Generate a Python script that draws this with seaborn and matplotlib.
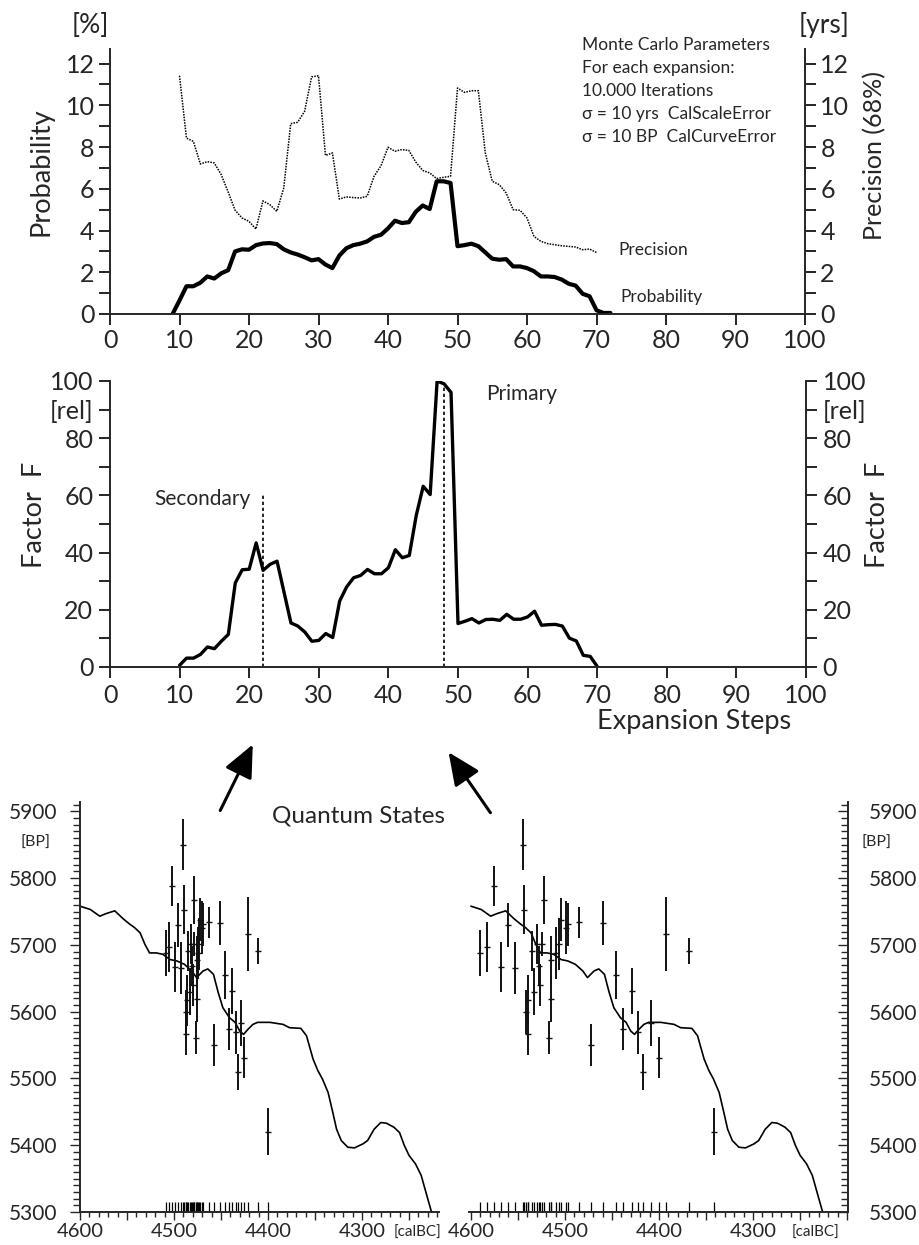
import matplotlib
matplotlib.use("Agg")
import matplotlib.pyplot as plt
from matplotlib.patches import FancyArrowPatch
from matplotlib.ticker import MultipleLocator
import seaborn as sns

sns.set_theme(style="ticks")
plt.rcParams["font.family"] = ["Lato", "DejaVu Sans"]
plt.rcParams["axes.linewidth"] = 1.4

W_PX, H_PX = 919, 1245

# ---- top panel: probability / precision per expansion step ----
prob_steps = list(range(9, 73))
probability = [0.0, 0.65, 1.33, 1.33, 1.5, 1.8, 1.7, 1.95, 2.1, 3.0, 3.1, 3.08, 3.3, 3.38,
               3.4, 3.35, 3.1, 2.95, 2.85, 2.72, 2.57, 2.63, 2.37, 2.2, 2.8, 3.15, 3.3, 3.37,
               3.48, 3.7, 3.8, 4.1, 4.47, 4.36, 4.4, 4.9, 5.2, 5.03, 6.36, 6.36, 6.28, 3.25,
               3.3, 3.37, 3.25, 2.95, 2.65, 2.6, 2.63, 2.28, 2.28, 2.2, 2.05, 1.8, 1.8, 1.77,
               1.65, 1.45, 1.36, 0.97, 0.85, 0.18, 0.05, 0.05]
prec_steps = list(range(10, 71))
precision = [11.42, 8.43, 8.27, 7.19, 7.3, 7.24, 6.68, 5.85, 4.97, 4.6, 4.44, 4.07, 5.42,
             5.24, 4.92, 6.04, 9.12, 9.19, 9.71, 11.36, 11.42, 7.6, 7.72, 5.51, 5.61, 5.58,
             5.56, 5.64, 6.6, 7.11, 7.99, 7.8, 7.88, 7.84, 7.28, 6.88, 6.76, 6.49, 6.55, 6.6,
             10.83, 10.62, 10.7, 10.7, 7.72, 6.36, 6.2, 5.8, 5.0, 4.97, 4.6, 3.72, 3.48, 3.37,
             3.32, 3.27, 3.24, 3.21, 3.08, 3.11, 2.95]

# ---- middle panel: factor F ----
factor_steps = list(range(10, 71))
factor_f = [0.6, 3.1, 3.1, 4.4, 7.0, 6.4, 9.0, 11.4, 29.4, 34.0, 34.2, 43.4, 33.8, 35.9, 37.0,
            26.2, 15.4, 14.3, 12.2, 9.0, 9.3, 11.7, 10.3, 23.1, 28.0, 31.2, 32.0, 34.1, 32.6,
            32.6, 34.7, 41.0, 38.2, 39.0, 53.0, 63.2, 60.3, 100.0, 99.0, 96.0, 15.2, 16.0,
            16.9, 15.4, 16.6, 16.7, 16.3, 18.4, 16.7, 16.7, 17.5, 19.5, 14.6, 14.8, 14.9,
            14.3, 10.1, 9.1, 4.1, 3.7, 0.2]
state_steps = [22, 48]
state_tops = [61, 98]
state_names = ["Secondary", "Primary"]

# ---- bottom panels: calibration curve and dates ----
cal_bc = [4600, 4589, 4579, 4572, 4563, 4554, 4547, 4542, 4536, 4531, 4526, 4519, 4512,
          4504, 4497, 4489, 4481, 4476, 4469, 4464, 4458, 4453, 4448, 4441, 4435, 4430,
          4426, 4421, 4416, 4411, 4398, 4384, 4377, 4365, 4359, 4352, 4347, 4342, 4336,
          4331, 4327, 4322, 4315, 4308, 4299, 4294, 4287, 4280, 4274, 4266, 4260, 4255,
          4250, 4243, 4237, 4232, 4226]
cal_bp = [5758, 5753, 5743, 5747, 5751, 5739, 5731, 5726, 5718, 5701, 5688, 5688, 5686,
          5678, 5676, 5671, 5661, 5651, 5661, 5664, 5656, 5629, 5606, 5591, 5584, 5571,
          5566, 5574, 5581, 5584, 5584, 5581, 5576, 5575, 5564, 5529, 5512, 5499, 5479,
          5449, 5424, 5407, 5397, 5396, 5402, 5407, 5424, 5434, 5433, 5427, 5419, 5400,
          5385, 5372, 5355, 5330, 5300]
date_bp = [5688, 5697, 5788, 5667, 5730, 5666, 5850, 5753, 5600, 5567, 5617, 5691, 5630,
           5701, 5668, 5640, 5702, 5767, 5561, 5678, 5619, 5688, 5702, 5738, 5726, 5731,
           5734, 5550, 5733, 5655, 5574, 5631, 5569, 5509, 5583, 5531, 5716, 5691, 5420]
date_err = [34, 37, 30, 37, 33, 39, 38, 37, 33, 32, 38, 30, 35, 30, 30, 31, 18, 36, 25, 35,
            35, 39, 39, 32, 40, 32, 23, 31, 33, 36, 32, 35, 32, 27, 35, 31, 55, 20, 35]
state_a_bc = [4508, 4505, 4502, 4499, 4496, 4493, 4490, 4489, 4487, 4487, 4486, 4485, 4483,
              4482, 4481, 4480, 4479, 4479, 4477, 4475, 4476, 4474, 4473, 4472, 4470, 4469,
              4463, 4457, 4451, 4446, 4441, 4438, 4434, 4432, 4429, 4425, 4421, 4411, 4400]
state_b_bc = [4590, 4583, 4575, 4568, 4560, 4553, 4545, 4543, 4541, 4539, 4539, 4535, 4533,
              4530, 4528, 4527, 4524, 4522, 4517, 4515, 4515, 4509, 4506, 4504, 4499, 4497,
              4485, 4472, 4459, 4446, 4438, 4429, 4422, 4417, 4409, 4400, 4393, 4368, 4342]


def frac_rect(left, top, right, bottom):
    return [left / W_PX, 1 - bottom / H_PX, (right - left) / W_PX, (bottom - top) / H_PX]


fig = plt.figure(figsize=(W_PX / 100, H_PX / 100), dpi=100)
fig.patch.set_facecolor("white")

TICK = 18
LABEL = 19.5

# ================= top panel =================
ax1 = fig.add_axes(frac_rect(110, 49, 805, 314))
sns.lineplot(x=prob_steps, y=probability, ax=ax1, color="black", linewidth=3)
sns.lineplot(x=prec_steps, y=precision, ax=ax1, color="black", linewidth=1.1,
             linestyle=(0, (1, 0.8)))
ax1.set_xlim(0, 100)
ax1.set_ylim(0, 12.7)
ax1.set_xticks(range(0, 101, 10))
ax1.set_yticks(range(13))
ax1.set_yticklabels([str(v) if v % 2 == 0 else "" for v in range(13)])
ax1.spines["top"].set_visible(False)
ax1.tick_params(axis="both", labelsize=TICK, width=1.2, length=8, pad=3, color="black")
ax1.tick_params(axis="y", right=True, labelright=True)
ax1.set_xlabel("")
ax1.set_ylabel("Probability", fontsize=LABEL)
ax1.yaxis.set_label_coords(-0.082, 0.536)
ax1.text(1.10, 0.60, "Precision (68%)", transform=ax1.transAxes, rotation=90,
         ha="center", va="center", fontsize=18)
ax1.text(-0.029, 1.09, "[%]", transform=ax1.transAxes, ha="center", va="center", fontsize=19)
ax1.text(1.027, 1.09, "[yrs]", transform=ax1.transAxes, ha="center", va="center", fontsize=19)
ax1.text(73.1, 3.08, "Precision", ha="left", va="center", fontsize=12.5)
ax1.text(73.4, 0.82, "Probability", ha="left", va="center", fontsize=12.5)
mc_lines = ["Monte Carlo Parameters", "For each expansion:", "10.000 Iterations",
            "\u03c3 = 10 yrs  CalScaleError", "\u03c3 = 10 BP  CalCurveError"]
for i, line in enumerate(mc_lines):
    fig.text(582 / W_PX, 1 - (45 + 23 * i) / H_PX, line, ha="left", va="center", fontsize=12.5)

# ================= middle panel =================
ax2 = fig.add_axes(frac_rect(110, 381, 806, 667))
sns.lineplot(x=factor_steps, y=factor_f, ax=ax2, color="black", linewidth=2.4)
ax2.vlines(state_steps, 0, state_tops, colors="black", linestyles=(0, (2, 1.6)), linewidth=1.2)
ax2.set_xlim(0, 100)
ax2.set_ylim(0, 100)
ax2.set_xticks(range(0, 101, 10))
ax2.set_yticks(range(0, 101, 10))
ax2.set_yticklabels([str(v) if v % 20 == 0 else ("[rel]" if v == 90 else "")
                     for v in range(0, 101, 10)])
ax2.spines["top"].set_visible(False)
ax2.tick_params(axis="both", labelsize=TICK, width=1.2, length=8, pad=4, color="black")
ax2.tick_params(axis="y", right=True, labelright=True)
ax2.set_ylabel("Factor  F", fontsize=LABEL)
ax2.yaxis.set_label_coords(-0.09, 0.531)
ax2.text(1.1025, 0.531, "Factor  F", transform=ax2.transAxes, rotation=90,
         ha="center", va="center", fontsize=LABEL)
ax2.set_xlabel("")
ax2.text(0.839, -0.192, "Expansion Steps", transform=ax2.transAxes, ha="center",
         va="center", fontsize=19.5)
ax2.text(20.2, 58.7, state_names[0], ha="right", va="center", fontsize=15)
ax2.text(54.0, 95.3, state_names[1], ha="left", va="center", fontsize=15)

# ================= bottom panels =================
def cal_panel(ax, dates_bc, side):
    sns.lineplot(x=cal_bc, y=cal_bp, ax=ax, color="black", linewidth=1.2)
    ax.errorbar(dates_bc, date_bp, yerr=date_err, fmt="_", ms=4, mew=1.0,
                color="#111111", elinewidth=1.4, capsize=0)
    sns.rugplot(x=dates_bc, ax=ax, height=0.025, color="black", linewidth=0.9)
    ax.set_ylim(5300, 5914)
    ax.set_yticks(range(5300, 5901, 100))
    ax.yaxis.set_minor_locator(MultipleLocator(10))
    ax.set_xticks(range(4200, 4601, 50))
    ax.set_xticklabels([str(v) if v % 100 == 0 and v > 4200 else ""
                        for v in range(4200, 4601, 50)])
    ax.xaxis.set_minor_locator(MultipleLocator(10))
    ax.spines["top"].set_visible(False)
    ax.tick_params(axis="x", which="major", length=6, width=1.0, labelsize=14.5, pad=2)
    ax.tick_params(axis="x", which="minor", length=3.5, width=1.0)
    ax.tick_params(axis="y", which="major", length=7.5, width=1.0, labelsize=15)
    ax.tick_params(axis="y", which="minor", length=5, width=1.0)
    ax.set_xlabel("")
    ax.set_ylabel("")
    if side == "left":
        ax.spines["right"].set_visible(False)
        ax.tick_params(axis="y", which="both", direction="out", pad=9)
        ax.text(-0.125, 0.90, "[BP]", transform=ax.transAxes, ha="center", va="center",
                fontsize=11.5)
        ax.text(0.9415, -0.052, "[calBC]", transform=ax.transAxes, ha="center",
                va="center", fontsize=11)
    else:
        ax.spines["left"].set_visible(False)
        ax.yaxis.tick_right()
        ax.tick_params(axis="y", which="both", direction="in", pad=15)
        ax.text(1.0765, 0.90, "[BP]", transform=ax.transAxes, ha="center", va="center",
                fontsize=11.5)
        ax.text(0.913, -0.050, "[calBC]", transform=ax.transAxes, ha="center",
                va="center", fontsize=11)


ax3 = fig.add_axes(frac_rect(80, 802, 439, 1212))
cal_panel(ax3, state_a_bc, "left")
ax3.set_xlim(4600, 4218)

ax4 = fig.add_axes(frac_rect(469, 802, 848, 1212))
cal_panel(ax4, state_b_bc, "right")
ax4.set_xlim(4602, 4199)

fig.text(358 / W_PX, 1 - 816 / H_PX, "Quantum States", ha="center", va="center", fontsize=17.5)


def fig_xy(px, py):
    return px / W_PX, 1 - py / H_PX


for tail, tip in [((219, 813), (254, 742)), ((492, 815), (447, 750))]:
    arrow = FancyArrowPatch(fig_xy(*tail), fig_xy(*tip), transform=fig.transFigure,
                            arrowstyle="-|>,head_length=1.0,head_width=0.45",
                            mutation_scale=20, linewidth=2.2, color="black")
    fig.patches.append(arrow)

fig.savefig("out.png", dpi=100, facecolor="white")
